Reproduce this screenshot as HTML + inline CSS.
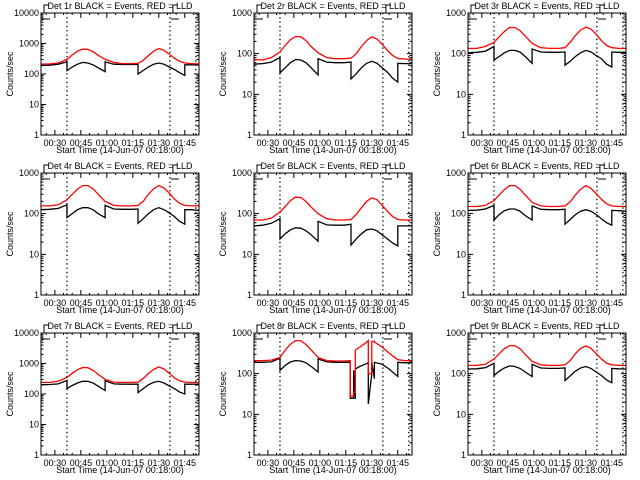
<!DOCTYPE html>
<html><head><meta charset="utf-8"><style>
html,body{margin:0;padding:0;background:#fff;}
svg{display:block;}
text{font-family:"Liberation Sans",sans-serif;font-size:9px;fill:#000;}
</style></head><body>
<svg id="chart" width="640" height="480" viewBox="0 0 640 480" xmlns="http://www.w3.org/2000/svg"></svg>
<script>
// Shared time grid (minutes since 00:21:56)
const T = [0,5,10,15,15,18,21,24,27,30,33,37,37,42,47,52,56,56,59,62,65,68,71,74,77,80,83,83,87,91];
const T8 = [0,5,10,15,15,18,21,24,27,30,33,37,37,42,47,52,55.5,55.5,57.5,57.5,58.5,58.5,61,64,66,66,68,68,69.5,69.5,74,78,83,83,87,91];
const detNames = ["1r","2r","3r","4r","5r","6r","7r","8r","9r"];
const yMaxDecade = [4,3,3,3,3,3,4,3,3];
const red1 = [210,215,230,300,300,420,560,650,640,540,410,300,300,240,220,220,225,225,280,400,560,680,600,450,330,260,230,230,220,215];
const blk1 = [190,195,210,250,130,170,210,240,230,200,160,120,250,210,205,205,205,100,130,170,210,230,210,170,140,110,90,200,200,200];
const red2 = [72,70,80,110,110,160,220,265,260,210,150,105,105,80,75,75,78,78,100,150,210,260,230,170,120,90,76,76,74,73];
const blk2 = [55,57,62,80,34,45,60,72,70,60,45,30,75,62,60,60,62,24,32,45,58,65,58,45,35,25,20,58,57,57];
const red3 = [135,135,150,190,190,260,350,440,440,370,270,180,180,140,135,135,140,140,190,280,380,450,400,300,210,160,140,140,135,135];
const blk3 = [105,108,115,150,70,85,105,120,120,110,85,58,130,110,108,108,110,52,65,85,105,120,110,90,75,55,47,110,108,108];
const red4 = [155,155,165,220,220,300,400,490,490,410,300,200,200,160,155,155,160,160,200,300,410,490,430,320,230,180,160,160,155,155];
const blk4 = [125,128,135,165,80,100,125,140,140,125,100,80,160,130,128,128,130,58,75,100,125,140,125,105,85,65,55,125,125,120];
const red5 = [70,70,78,110,110,150,210,255,250,200,145,100,100,75,70,70,72,72,95,140,200,245,220,160,115,85,72,72,70,70];
const blk5 = [50,52,58,75,24,32,40,45,44,38,30,21,65,53,52,52,55,17,24,32,40,42,38,30,24,19,16,50,50,50];
const red6 = [150,150,160,210,210,290,390,490,490,400,290,190,190,155,150,150,155,155,195,290,400,490,420,310,225,175,155,155,150,150];
const blk6 = [120,122,130,160,70,95,118,130,130,115,90,70,155,128,125,125,128,55,72,95,115,125,115,95,75,60,52,120,118,115];
const red7 = [240,240,260,350,350,480,620,740,730,600,440,300,300,245,240,240,245,245,320,470,640,770,660,480,340,270,245,245,240,240];
const blk7 = [200,205,215,280,150,190,230,260,260,230,180,130,270,215,210,210,210,110,150,200,240,260,230,185,150,115,100,210,210,210];
const red8 = [210,210,215,250,250,380,530,650,640,520,380,250,250,210,205,205,210,28,28,35,35,380,450,550,650,100,100,620,620,600,450,320,220,220,210,210];
const blk8 = [190,190,195,240,120,160,195,210,205,185,150,110,230,195,190,190,190,25,25,120,24,130,150,170,185,18,100,190,75,190,170,130,85,190,185,185];
const red9 = [160,160,170,230,230,310,410,490,490,410,300,200,200,165,160,160,165,165,210,310,420,480,420,310,230,180,165,165,160,160];
const blk9 = [130,132,140,180,90,115,138,155,150,135,110,85,170,138,135,135,138,68,88,115,138,150,135,110,90,70,60,135,132,130];
const xTickMin = [8,23,38,53,68,83];
const xTickLabels = ["00:30","00:45","01:00","01:15","01:30","01:45"];
const dottedMin = [15,74.4,89.4];

const redSeries=[red1,red2,red3,red4,red5,red6,red7,red8,red9];
const blkSeries=[blk1,blk2,blk3,blk4,blk5,blk6,blk7,blk8,blk9];
const timeSeries=[T,T,T,T,T,T,T,T8,T];

const NS="http://www.w3.org/2000/svg";
const svg=document.getElementById('chart');
function mk(tag,attrs,parent){const e=document.createElementNS(NS,tag);for(const k in attrs)e.setAttribute(k,attrs[k]);(parent||svg).appendChild(e);return e;}
const PW=158, PH=122, TMAX=91.2;

for(let p=0;p<9;p++){
  const col=p%3,row=Math.floor(p/3);
  const x0=Math.round(col*213.33)+41, y0=row*160+13;
  const g=mk('g',{});
  
  
  const dec=yMaxDecade[p];
  const xs=t=>x0+t/TMAX*PW;
  const ys=v=>y0+PH-(Math.log10(Math.max(v,1))/dec)*PH;
  // title
  const tt=mk('text',{x:x0+PW/2,y:y0-4,'text-anchor':'middle'},g);
  tt.textContent='Det '+detNames[p]+' BLACK = Events, RED = LLD';
  
  
  // y label
  const yl=mk('text',{x:0,y:0,'text-anchor':'middle',transform:`translate(${x0-28},${y0+PH/2}) rotate(-90)`},g);
  yl.textContent='Counts/sec';
  
  
  // x title
  const xl=mk('text',{x:x0+PW/2,y:y0+PH+18,'text-anchor':'middle'},g);
  xl.textContent='Start Time (14-Jun-07 00:18:00)';
  
  
  // y ticks
  let d='';
  for(let k=0;k<=dec;k++){
    const y=ys(Math.pow(10,k));
    d+=`M${x0},${y}h5M${x0+PW},${y}h-5`;
    const lb=mk('text',{x:x0-2,y:y+3,'text-anchor':'end'},g);
    lb.textContent=String(Math.pow(10,k));
    
    
    if(k<dec)for(let m=2;m<10;m++){const ym=ys(m*Math.pow(10,k));d+=`M${x0},${ym}h2.5M${x0+PW},${ym}h-2.5`;}
  }
  for(let t=3;t<TMAX;t+=5){const x=xs(t);d+=`M${x},${y0+PH}v-2M${x},${y0}v2`;}
  xTickMin.forEach((t,i)=>{
    const x=xs(t);d+=`M${x},${y0+PH}v-5M${x},${y0}v5`;
    const lb=mk('text',{x:x,y:y0+PH+11,'text-anchor':'middle'},g);
    lb.textContent=xTickLabels[i];
    
    
  });
  const tk=mk('path',{d:d,stroke:'#000','stroke-width':1,fill:'none'},g);
  
  
  // dotted lines
  dottedMin.forEach(t=>{
    const l=mk('line',{x1:xs(t),x2:xs(t),y1:y0,y2:y0+PH,stroke:'#000','stroke-width':1.3,'stroke-dasharray':'1.3,3'},g);
    
    
  });
  // E markers
  [0,74.4].forEach(t=>{
    const x=t===0?x0+1:xs(t)+1;
    const m=mk('path',{d:`M${x+2},${y0}V${y0-8}h5M${x},${y0+6}h8`,stroke:'#000','stroke-width':1,fill:'none'},g);
    
    
  });
  // series
  const tm=timeSeries[p];
  const line=(arr,color,name)=>{
    const n=Math.min(arr.length,tm.length);
    let pts=[];for(let i=0;i<n;i++)pts.push(xs(tm[i]).toFixed(1)+','+ys(arr[i]).toFixed(1));
    const pl=mk('polyline',{points:pts.join(' '),stroke:color,'stroke-width':1.3,fill:'none'},g);
    
    
  };
  line(blkSeries[p],'#000','events-line');
  line(redSeries[p],'#ff0000','lld-line');
  // frame
  const fr=mk('rect',{x:x0,y:y0,width:PW,height:PH,fill:'none',stroke:'#000','stroke-width':1},g);
  
  
}
</script>
</body></html>
